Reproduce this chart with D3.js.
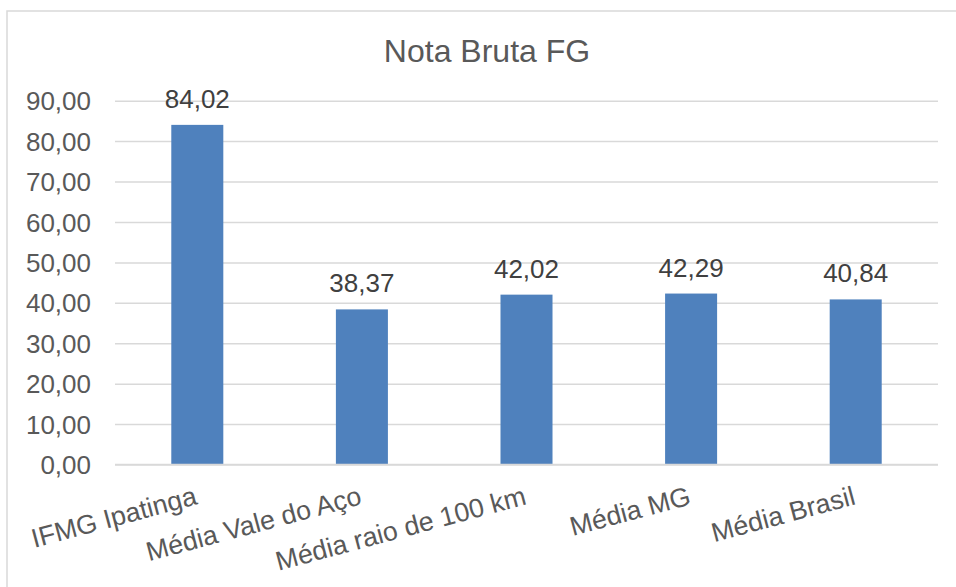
<!DOCTYPE html>
<html><head><meta charset="utf-8">
<script src="https://cdn.jsdelivr.net/npm/d3@7"></script>
<style>body{margin:0;background:#fff}svg{display:block}text{font-family:"Liberation Sans",Arial,sans-serif}</style>
</head><body><svg id="c" width="956" height="587"></svg>
<script>
const categories = ["IFMG Ipatinga","Média Vale do Aço","Média raio de 100 km","Média MG","Média Brasil"];
const values = [84.02,38.37,42.02,42.29,40.84];
const ticks = [0,10,20,30,40,50,60,70,80,90];
const title = "Nota Bruta FG";

const svg = d3.select("#c");
const fmt = v => v.toFixed(2).replace(".", ",");
const L = 115, R = 938, T = 100.7, B = 464.5;
svg.append("rect").attr("x",7).attr("y",11).attr("width",960).attr("height",600)
  .attr("fill","#fff").attr("stroke","#d9d9d9").attr("stroke-width",1.5);
const x = d3.scaleBand().domain(categories).range([L,R]).paddingInner(0.684).paddingOuter(0.342);
const y = d3.scaleLinear().domain([0,90]).range([B,T]);
const ya = svg.append("g").attr("transform",`translate(${L},0)`)
  .call(d3.axisLeft(y).tickValues(ticks).tickFormat(fmt).tickSize(-(R-L)).tickPadding(24));
ya.select(".domain").remove();
ya.selectAll(".tick line").attr("stroke","#d9d9d9").attr("stroke-width",1.5);
ya.selectAll(".tick text").attr("fill","#595959").style("font-size","26px").attr("dy","0.35em");
svg.append("g").selectAll("rect").data(values).join("rect")
  .attr("x",(d,i)=>x(categories[i])).attr("width",x.bandwidth())
  .attr("y",d=>y(d)).attr("height",d=>y(0)-y(d)).attr("fill","#4f81bd");
svg.append("line").attr("x1",L).attr("x2",R).attr("y1",y(0)).attr("y2",y(0))
  .attr("stroke","#d9d9d9").attr("stroke-width",1.5);
svg.append("g").selectAll("text").data(values).join("text")
  .attr("x",(d,i)=>x(categories[i])+x.bandwidth()/2).attr("y",d=>y(d)-17)
  .attr("text-anchor","middle").attr("fill","#404040").style("font-size","26px").text(fmt);
svg.append("g").selectAll("text").data(categories).join("text")
  .attr("transform",d=>`translate(${x(d)+x.bandwidth()/2+1},504) rotate(-15)`)
  .attr("text-anchor","end").attr("fill","#595959").style("font-size","26.8px").text(d=>d);
svg.append("text").attr("x",487).attr("y",62).attr("text-anchor","middle")
  .attr("fill","#595959").style("font-size","32px").text(title);
</script></body></html>
